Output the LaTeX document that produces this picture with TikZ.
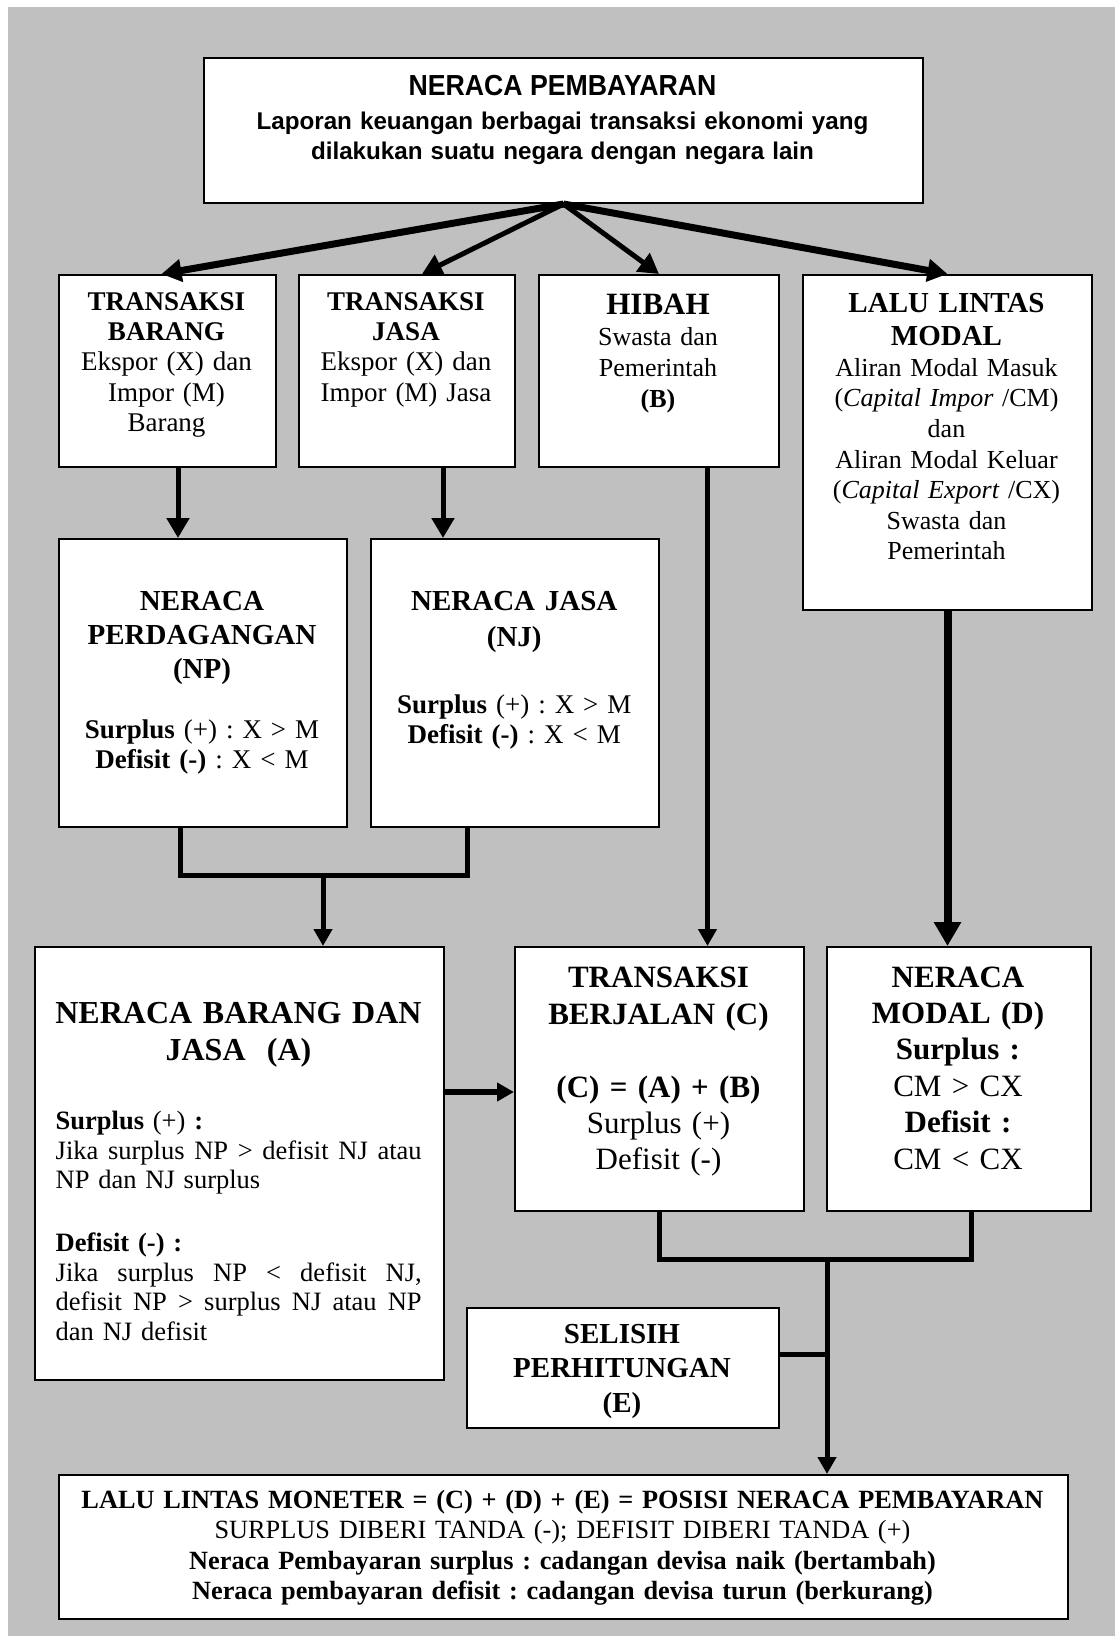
\documentclass[tikz,border=0pt]{standalone}
\usepackage{fontspec}
\setmainfont{Liberation Serif}
\newfontfamily\headsans[FakeStretch=0.92]{Liberation Sans}
\newfontfamily\subsans{Liberation Sans}
\usetikzlibrary{arrows.meta,calc}
\definecolor{sheet}{HTML}{C0C0C0}
\frenchspacing
\newcommand\fsz[2]{\fontsize{#1pt}{#2pt}\selectfont}
% a line set flush to both margins of the 366pt column
\newcommand\fullline[1]{\makebox[366pt][s]{\spaceskip=0pt\xspaceskip=0pt\relax #1}}
\tikzset{
  panel/.style={draw=black, line width=2pt, fill=white, inner sep=0pt, anchor=north west},
  boxtext/.style={inner sep=0pt, anchor=north, align=center},
  link/.style={line width=5pt},
  tipS/.style={-{Triangle[length=17pt,width=18pt]}},
  tipM/.style={-{Triangle[length=20pt,width=22pt]}},
  tipL/.style={-{Triangle[length=24pt,width=26pt]}},
}
\begin{document}
\begin{tikzpicture}[x=1pt,y=-1pt]
\useasboundingbox (0,0) rectangle (1115,1636);
\fill[white] (0,0) rectangle (1115,1636);
\fill[sheet] (8,7) rectangle (1115,1636);

% boxes
\node[panel, minimum width=719pt, minimum height=145pt] (bop) at (203,57) {};
\node[panel, minimum width=217pt, minimum height=192pt] (tbar) at (58,274) {};
\node[panel, minimum width=216pt, minimum height=192pt] (tjas) at (298,274) {};
\node[panel, minimum width=240pt, minimum height=192pt] (hib) at (538,274) {};
\node[panel, minimum width=289pt, minimum height=335pt] (llm) at (802,274) {};
\node[panel, minimum width=288pt, minimum height=288pt] (np) at (58,538) {};
\node[panel, minimum width=288pt, minimum height=288pt] (nj) at (370,538) {};
\node[panel, minimum width=409pt, minimum height=433pt] (nbj) at (34,946) {};
\node[panel, minimum width=289pt, minimum height=264pt] (tb) at (514,946) {};
\node[panel, minimum width=264pt, minimum height=264pt] (nm) at (826,946) {};
\node[panel, minimum width=312pt, minimum height=120pt] (sp) at (466,1307) {};
\node[panel, minimum width=1009pt, minimum height=144pt] (llmon) at (58,1474) {};

% texts
\node[boxtext, font=\headsans\bfseries\fsz{29}{34}] (bop-title) at (562.5,71.2) {\strut NERACA PEMBAYARAN};
\node[boxtext, text width=705pt, font=\subsans\bfseries\fsz{24.2}{30}] (bop-sub) at (562.5,108) {\strut Laporan keuangan berbagai transaksi ekonomi yang\\dilakukan suatu negara dengan negara lain};

\node[boxtext, text width=210pt, font=\fsz{27}{30.4}] (tbar-txt) at (166.5,288.7)
  {\strut\textbf{TRANSAKSI}\\\textbf{BARANG}\\Ekspor (X) dan\\Impor (M)\\Barang};
\node[boxtext, text width=210pt, font=\fsz{27}{30.4}] (tjas-txt) at (406,288.7)
  {\strut\textbf{TRANSAKSI}\\\textbf{JASA}\\Ekspor (X) dan\\Impor (M) Jasa};
\node[boxtext, text width=230pt, font=\fsz{31}{33}] (hib-title) at (658,290.9) {\strut\textbf{HIBAH}};
\node[boxtext, text width=230pt, font=\fsz{26}{31}] (hib-txt) at (658,323.3)
  {\strut Swasta dan\\Pemerintah\\\textbf{(B)}};
\node[boxtext, text width=280pt, font=\fsz{29}{33.7}] (llm-title) at (946.5,288.4)
  {\strut\textbf{LALU LINTAS}\\\textbf{MODAL}};
\node[boxtext, text width=280pt, font=\fsz{26}{30.6}] (llm-txt) at (946.5,354.6)
  {\strut Aliran Modal Masuk\\(\textit{Capital Impor} /CM)\\dan\\Aliran Modal Keluar\\(\textit{Capital Export} /CX)\\Swasta dan\\Pemerintah};

\node[boxtext, text width=280pt, font=\fsz{29}{34}] (np-title) at (202,586.2)
  {\strut\textbf{NERACA}\\\textbf{PERDAGANGAN}\\\textbf{(NP)}};
\node[boxtext, text width=280pt, font=\fsz{27}{30}] (np-txt) at (202,717)
  {\strut\textbf{Surplus} (+) : X > M\\\textbf{Defisit (-)} : X < M};
\node[boxtext, text width=280pt, font=\fsz{29}{36}] (nj-title) at (514.25,584.8)
  {\strut\textbf{NERACA JASA}\\\textbf{(NJ)}};
\node[boxtext, text width=280pt, font=\fsz{27}{30}] (nj-txt) at (514.25,692)
  {\strut\textbf{Surplus} (+) : X > M\\\textbf{Defisit (-)} : X < M};

\node[boxtext, text width=400pt, font=\fsz{32}{37}] (nbj-title) at (238.5,997.1)
  {\strut\textbf{NERACA BARANG DAN}\\\textbf{JASA\ \ (A)}};
\node[inner sep=0pt, anchor=north west, align=left, text width=366pt, font=\fsz{26.5}{29.5}] (nbj-plus) at (55.5,1109)
  {\strut\textbf{Surplus} (+) \textbf{:}\\\fullline{Jika surplus NP > defisit NJ atau}\\NP dan NJ surplus};
\node[inner sep=0pt, anchor=north west, align=left, text width=366pt, font=\fsz{26.5}{29.5}] (nbj-minus) at (55.5,1231)
  {\strut\textbf{Defisit (-) :}\\\fullline{Jika surplus NP < defisit NJ,}\\\fullline{defisit NP > surplus NJ atau NP}\\dan NJ defisit};

\node[boxtext, text width=280pt, font=\fsz{31}{37}] (tb-title) at (658.5,961.5)
  {\strut\textbf{TRANSAKSI}\\\textbf{BERJALAN (C)}};
\node[boxtext, text width=280pt, font=\fsz{31}{36}] (tb-txt) at (658.5,1071.8)
  {\strut\textbf{(C) = (A) + (B)}\\Surplus (+)\\Defisit (-)};
\node[boxtext, text width=255pt, font=\fsz{31}{36.4}] (nm-txt) at (958,961.5)
  {\strut\textbf{NERACA}\\\textbf{MODAL (D)}\\\textbf{Surplus :}\\CM > CX\\\textbf{Defisit :}\\CM < CX};
\node[boxtext, text width=300pt, font=\fsz{29}{34.8}] (sp-txt) at (622,1318.6)
  {\strut\textbf{SELISIH}\\\textbf{PERHITUNGAN}\\\textbf{(E)}};
\node[boxtext, text width=1000pt, font=\fsz{26.3}{30.5}] (llmon-txt) at (562.5,1486.8)
  {\strut\textbf{LALU LINTAS MONETER = (C) + (D) + (E) = POSISI NERACA PEMBAYARAN}\\
   SURPLUS DIBERI TANDA (-); DEFISIT DIBERI TANDA (+)\\
   \textbf{Neraca Pembayaran surplus : cadangan devisa naik (bertambah)}\\
   \textbf{Neraca pembayaran defisit : cadangan devisa turun (berkurang)}};

% fan of arrows out of the top box
\draw[line width=7pt, tipM] (bop.south) -- ($(tbar.north)+(-6,0)$);
\draw[line width=5pt, tipM] (bop.south) -- ($(tjas.north)+(15,0)$);
\draw[line width=5pt, tipM] (bop.south) -- (hib.north);
\draw[line width=7pt, tipM] (bop.south) -- (llm.north);

% transactions into the two balances
\coordinate (b1) at ($(tbar.south)+(10.5,0)$);
\draw[link, tipM] (b1) -- (b1 |- np.north);
\coordinate (b2) at ($(tjas.south)+(36,0)$);
\draw[link, tipM] (b2) -- (b2 |- nj.north);

% join of NP and NJ into (A)
\coordinate (j1) at ($(np.south)+(-23,0)$);
\coordinate (j2) at ($(nj.south)+(-48,0)$);
\coordinate (j3) at ($(nbj.north)+(83.5,0)$);
\coordinate (jbar) at ($(j3)+(0,-71)$);
\draw[link] (j1) |- (jbar) -| (j2);
\draw[link, tipS] (jbar) -- (j3);

% (A) into (C), grants into (C), capital flows into (D)
\coordinate (a1) at ($(nbj.east)+(0,-71.5)$);
\draw[line width=6pt, tipS] (a1) -- (a1 -| tb.west);
\coordinate (h1) at ($(hib.south)+(48.5,0)$);
\draw[line width=5pt, tipS] (h1) -- (h1 |- tb.north);
\draw[line width=8pt, tipL] (llm.south) -- (llm.south |- nm.north);

% join of (C), (D) and (E) into the monetary line
\coordinate (k2) at ($(nm.south)+(12,0)$);
\coordinate (ktip) at ($(llmon.north)+(263.5,0)$);
\coordinate (kbar) at ($(ktip)+(0,-215)$);
\draw[link] (tb.south) |- (kbar) -| (k2);
\draw[link, tipS] (kbar) -- (ktip);
\coordinate (se) at ($(sp.east)+(0,-14)$);
\draw[link] (se) -- (se -| kbar);
\end{tikzpicture}
\end{document}
